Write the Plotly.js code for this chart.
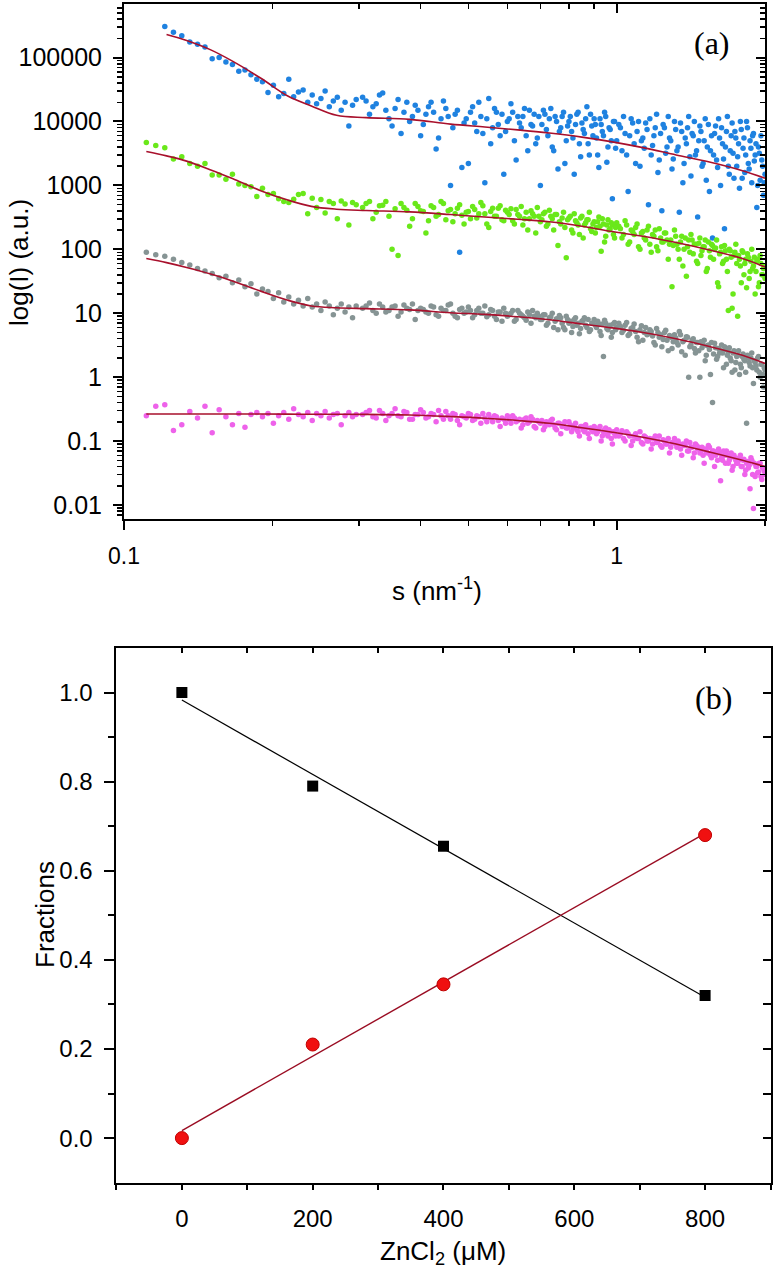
<!DOCTYPE html>
<html>
<head>
<meta charset="utf-8">
<script src="https://cdn.plot.ly/plotly-3.0.1.min.js"></script>
<style>
  html, body { margin: 0; padding: 0; background: #fff; }
  #plot { width: 775px; height: 1274px; }
</style>
</head>
<body>
<div id="plot"></div>
<script>
// ---- panel (a): SAXS curves, s in nm^-1, intensity in a.u. ----
const sVals = [
  0.111,0.116,0.121,0.126,0.131,0.136,0.141,0.146,0.151,0.156,
  0.161,0.166,0.171,0.176,0.181,0.186,0.191,0.196,0.201,0.206,
  0.211,0.216,0.221,0.226,0.231,0.236,0.241,0.246,0.251,0.256,
  0.261,0.266,0.271,0.276,0.281,0.286,0.291,0.296,
  0.31,0.32,0.33,0.34,0.35,0.36,0.37,0.38,0.39,0.40,
  0.41,0.42,0.43,0.44,0.45,0.46,0.47,0.48,0.49,0.50,
  0.51,0.52,0.53,0.54,0.55,0.56,0.57,0.58,0.59,0.60,
  0.61,0.62,0.63,0.64,0.65,0.66,0.67,0.68,0.69,0.70,
  0.71,0.72,0.73,0.74,0.75,0.76,0.77,0.78,0.79,0.80,
  0.81,0.82,0.83,0.84,0.85,0.86,0.87,0.88,0.89,0.90,
  0.91,0.92,0.93,0.94,0.95,0.96,0.97,0.98,0.99,1.00,
  1.01,1.025,1.04,1.055,1.07,1.085,1.1,1.115,1.13,1.145,
  1.16,1.175,1.19,1.205,1.22,1.235,1.25,1.265,1.28,1.295,
  1.31,1.325,1.34,1.355,1.37,1.385,1.4,1.415,1.43,1.445,
  1.46,1.475,1.49,1.505,1.52,1.535,1.55,1.565,1.58,1.595,
  1.61,1.625,1.64,1.655,1.67,1.685,1.7,1.715,1.73,1.745,
  1.76,1.775,1.79,1.805,1.82,1.835,1.85,1.865,1.88,1.895,
  1.91,1.925,1.94,1.955,1.97,1.985,2.0
];

const blueI = [
  null,null,3.05e5,2.5e5,2.2e5,1.75e5,1.62e5,1.47e5,9.6e4,1.0e5,
  8.5e4,7.8e4,6.1e4,6.4e4,5.4e4,4.6e4,4.2e4,2.85e4,3.7e4,2.45e4,
  2.75e4,4.6e4,2.45e4,2.9e4,3.1e4,2.0e4,2.6e4,1.9e4,2.3e4,3.0e4,
  1.7e4,2.1e4,2.4e4,1.5e4,2.0e4,8.5e3,1.8e4,2.2e4,
  2.1e4,1.7e4,2.6e4,1.5e4,8.5e3,2.2e4,1.4e4,1.0e4,1.8e4,6.0e3,
  1.3e4,2.0e4,3.7e3,1.1e4,1.6e4,1.0e3,1.3e4,90,9.5e3,2.2e3,
  1.7e4,7.0e3,1.2e4,1.1e3,2.3e4,8.0e3,1.4e4,6.0e3,1.5e3,1.0e4,
  1.9e4,5.0e3,1.2e4,8.0e3,1.6e4,3.5e3,9.0e3,1.3e4,5.5e3,1.0e3,
  1.5e4,7.5e3,1.1e4,4.0e3,1.2e4,1.8e3,8.0e3,1.4e4,5.0e3,1.0e4,
  7.0e3,1.5e3,1.3e4,4.5e3,9.5e3,6.5e3,1.7e4,3.0e3,8.5e3,1.1e4,
  5.5e3,1.9e3,9.0e3,6.0e3,1.2e4,4.0e3,7.5e3,620,1.0e4,5.0e3,
  9.0e3,3.5e3,6.5e3,800,1.1e4,4.5e3,7.0e3,2.0e3,5.5e3,9.5e3,
  500,3.0e3,6.0e3,1.3e4,2.5e3,400,8.0e3,4.0e3,5.5e3,1.8e3,
  1.0e4,3.5e3,380,7.0e3,2.2e3,4.5e3,1.2e4,1.4e3,6.0e3,3.0e3,
  320,8.5e3,2.0e3,5.0e3,1.2e3,9.0e3,3.5e3,150,6.5e3,2.5e3,
  1.1e4,1.0e3,4.5e3,210,7.0e3,2.0e3,3.5e3,9.5e3,1.3e3,5.5e3,
  2.8e3,900,7.5e3,3.8e3,1.6e3,1.0e4,2.2e3,5.0e3,1.1e3,6.5e3,
  3.0e3,450,4.0e3,1.2e3,2.5e3,700,1.5e3
];

const greenI = [
  4700,4200,3900,2600,2800,2200,2000,2200,1450,1450,
  1250,1500,1050,1000,950,670,900,720,750,620,
  560,540,610,720,750,360,630,450,600,370,
  560,520,300,570,510,240,540,500,
  520,300,480,560,100,80,450,230,520,400,
  180,480,330,560,290,420,360,500,250,390,
  470,310,540,360,220,440,330,480,280,380,
  430,250,350,470,300,200,400,330,450,270,
  360,230,410,300,350,115,250,380,74,310,
  200,360,260,170,330,240,290,380,190,270,
  220,320,93,250,160,290,210,240,150,260,
  230,150,280,120,200,170,250,100,190,140,
  230,90,160,110,210,130,180,140,120,26,
  200,120,70,160,100,38,140,170,85,120,
  60,150,95,110,45,130,75,115,100,140,
  26,90,60,115,70,11,95,12,80,120,
  9,70,30,90,60,25,75,45,100,55,
  20,65,26,80,40,50,35
];

const grayI = [
  90,82,78,70,62,57,50,46,42,36,
  38,30,33,26,29,20,24,22,17,21,
  15,18,14,16,13,17,12.5,14,11,15,
  13,9.5,12,14,10.5,12.5,8.5,13,
  13,11,14,10.5,12.5,9,13.5,11.5,8,12,
  10.5,13,9.5,12,11,14,9,11.5,10,12.5,
  8.5,11,10,13,9.5,11,8,10.5,12,9,
  10,7.5,11,9.5,8.5,10.5,7,9,10,8,
  9.5,6.5,8.5,10,7.5,5.5,8.5,6,9,7,
  5,8,6.5,4.8,7.5,8.5,6,5.2,7,8,
  6,6.8,4.5,2.1,7,5.5,6.5,5,7.2,6,
  7,5,6.5,4.5,5.8,6.8,4.2,5.5,3.8,6,
  4.8,5.2,3.5,5.8,4.2,3,5,3.8,4.5,2.8,
  4.6,3.5,5.2,2.5,3.8,4.3,1.0,3.2,4,2.4,
  3.5,1.0,2.9,3.8,2.2,3.2,1.1,0.4,3.4,1.9,
  2.8,2.6,2.4,3.0,1.6,2.5,2.0,1.2,2.6,1.7,
  2.2,1.1,1.4,2.3,1.8,0.19,2.0,1.5,2.4,0.8,
  1.7,1.3,2.1,1.0,1.6,0.7,1.3
];

const pinkI = [
  0.25,0.35,0.37,0.146,0.18,0.29,0.23,0.35,0.135,0.31,
  0.24,0.18,0.27,0.165,0.26,0.28,0.24,0.27,0.19,0.25,
  0.28,0.22,0.32,0.26,0.24,0.28,0.21,0.27,0.25,0.29,
  0.23,0.26,0.27,0.18,0.25,0.28,0.24,0.26,
  0.28,0.24,0.30,0.21,0.27,0.25,0.29,0.22,0.26,0.31,
  0.23,0.27,0.20,0.25,0.29,0.22,0.26,0.18,0.24,0.27,
  0.21,0.25,0.19,0.23,0.26,0.20,0.24,0.17,0.22,0.25,
  0.19,0.23,0.21,0.16,0.22,0.19,0.24,0.17,0.21,0.19,
  0.15,0.20,0.18,0.22,0.16,0.19,0.13,0.18,0.16,0.20,
  0.14,0.17,0.15,0.12,0.17,0.14,0.16,0.11,0.15,0.17,
  0.13,0.15,0.10,0.14,0.16,0.12,0.14,0.09,0.13,0.15,
  0.12,0.145,0.10,0.13,0.085,0.12,0.11,0.14,0.09,0.115,
  0.10,0.075,0.11,0.095,0.12,0.08,0.10,0.09,0.065,0.095,
  0.11,0.08,0.09,0.06,0.085,0.10,0.07,0.08,0.055,0.09,
  0.075,0.065,0.08,0.045,0.07,0.085,0.06,0.07,0.04,0.065,
  0.075,0.024,0.05,0.06,0.07,0.045,0.055,0.035,0.06,0.05,
  0.045,0.055,0.04,0.05,0.03,0.045,0.038,0.018,0.05,0.0088,
  0.028,0.04,0.033,0.045,0.025,0.038,0.03
];

// second, interleaved set of readings for s > 0.3 where the data are dense
const sVals2 = [
  0.305,0.315,0.325,0.335,0.345,0.355,0.365,0.375,0.385,0.395,
  0.405,0.415,0.425,0.435,0.445,0.455,0.465,0.475,0.485,0.495,
  0.505,0.515,0.525,0.535,0.545,0.555,0.565,0.575,0.585,0.595,
  0.605,0.615,0.625,0.635,0.645,0.655,0.665,0.675,0.685,0.695,
  0.705,0.715,0.725,0.735,0.745,0.755,0.765,0.775,0.785,0.795,
  0.805,0.815,0.825,0.835,0.845,0.855,0.865,0.875,0.885,0.895,
  0.905,0.915,0.925,0.935,0.945,0.955,0.965,0.975,0.985,0.995,
  1.0175,1.0325,1.0475,1.0625,1.0775,1.0925,1.1075,1.1225,1.1375,1.1525,
  1.1675,1.1825,1.1975,1.2125,1.2275,1.2425,1.2575,1.2725,1.2875,1.3025,
  1.3175,1.3325,1.3475,1.3625,1.3775,1.3925,1.4075,1.4225,1.4375,1.4525,
  1.4675,1.4825,1.4975,1.5125,1.5275,1.5425,1.5575,1.5725,1.5875,1.6025,
  1.6175,1.6325,1.6475,1.6625,1.6775,1.6925,1.7075,1.7225,1.7375,1.7525,
  1.7675,1.7825,1.7975,1.8125,1.8275,1.8425,1.8575,1.8725,1.8875,1.9025,
  1.9175,1.9325,1.9475,1.9625,1.9775,1.9925
];

const blueI2 = [
  2.4e4,1.3e4,1.9e4,2.8e4,1.1e4,1.6e4,6.5e3,2.0e4,1.2e4,1.5e4,
  9.0e3,1.7e4,1.4e4,5.5e3,2.1e4,1.2e4,8.0e3,1.5e4,1.9e3,1.1e4,
  1.4e4,9.5e3,2.0e4,6.5e3,1.1e4,4.5e3,1.6e4,9.0e3,1.3e4,7.0e3,
  1.1e4,1.4e4,2.5e3,9.5e3,1.2e4,6.0e3,1.5e4,8.5e3,4.5e3,1.2e4,
  9.0e3,1.3e4,6.0e3,1.6e4,3.5e3,1.0e4,7.0e3,1.2e4,2.2e3,8.5e3,
  1.2e4,5.5e3,9.0e3,1.4e4,2.8e3,7.5e3,1.1e4,4.5e3,1.3e4,6.0e3,
  9.0e3,3.0e3,1.1e4,7.0e3,1.4e4,2.3e3,8.0e3,5.0e3,1.0e4,3.8e3,
  8.0e3,1.2e4,3.0e3,6.0e3,9.5e3,2.2e3,1.0e4,5.0e3,3.8e3,7.5e3,
  1.1e4,4.2e3,8.0e3,1.6e3,6.5e3,9.0e3,3.2e3,1.2e4,5.0e3,2.6e3,
  7.5e3,4.0e3,9.5e3,1.1e3,5.5e3,8.0e3,2.8e3,6.5e3,1.0e4,3.5e3,
  5.0e3,7.0e3,2.2e3,1.1e4,4.0e3,800,6.0e3,3.0e3,8.5e3,1.9e3,
  5.5e3,8.0e3,2.6e3,4.0e3,1.2e4,1.5e3,6.0e3,3.2e3,7.0e3,2.0e3,
  4.5e3,1.0e4,1.3e3,5.5e3,3.0e3,8.0e3,1.8e3,3.8e3,6.0e3,2.4e3,
  4.5e3,1.0e3,3.2e3,6.0e3,2.0e3,1.1e3
];

const greenI2 = [
  450,560,380,490,330,430,520,410,300,470,
  390,280,450,350,520,400,270,440,340,380,
  300,420,360,480,250,390,330,440,290,410,
  350,280,420,330,240,380,300,360,180,330,
  290,380,250,330,200,350,270,310,220,290,
  330,180,280,240,310,150,260,290,210,250,
  180,270,230,300,130,240,200,260,170,220,
  210,170,240,130,190,220,110,180,150,200,
  120,170,200,95,150,130,180,70,140,115,
  160,100,130,55,150,110,90,140,120,65,
  125,80,110,140,50,95,120,70,105,30,
  85,110,65,95,45,100,75,20,90,60,
  80,55,95,40,70,85,35,65,50,75,
  45,70,30,60,40,55
];

const grayI2 = [
  12,14.5,10,12.5,11,13,10.5,12,14,11,
  11.5,10,12.5,9,11,13.5,10,8.5,12,10.5,
  11,9.5,12,10,8.8,11.5,9,10.5,7.5,10,
  9.5,11,8,10,9,7.8,9.5,11,8.5,9,
  8,9.5,7,8.8,6,8.2,9.2,7,5.5,8,
  7.5,6.2,8.5,7,5.8,7.8,6.5,8,5.5,7,
  6.5,7.5,5.2,6.8,7.8,5.8,6.2,4.2,6.8,5.5,
  6.2,5.4,7.2,4.8,6,5.2,3.6,6.4,5,4.6,
  5.5,4.4,3.2,5,4.6,3.9,5.4,2.6,4.2,3.6,
  4.1,3.2,4.6,3.6,2.2,4.2,3,3.8,2.8,3.5,
  2.6,3.6,3.2,1.8,3.1,2.7,3.5,2.3,2.9,2.1,
  2.4,3.2,1.4,2.7,2.2,2.9,1.8,2.4,1.3,2.1,
  2.6,1.6,2.1,1.9,1.2,2.2,1.7,2.0,1.4,1.8,
  1.5,2.0,1.2,1.6,1.1,1.4
];

const pinkI2 = [
  0.26,0.30,0.23,0.27,0.25,0.32,0.24,0.28,0.22,0.26,
  0.28,0.24,0.26,0.30,0.22,0.25,0.27,0.21,0.25,0.23,
  0.26,0.22,0.24,0.27,0.20,0.23,0.25,0.21,0.23,0.19,
  0.22,0.25,0.20,0.22,0.18,0.23,0.20,0.22,0.16,0.20,
  0.21,0.17,0.19,0.21,0.18,0.15,0.19,0.17,0.20,0.16,
  0.18,0.16,0.19,0.14,0.17,0.15,0.18,0.13,0.16,0.14,
  0.16,0.14,0.17,0.12,0.15,0.13,0.15,0.11,0.14,0.12,
  0.13,0.11,0.14,0.12,0.10,0.13,0.11,0.095,0.12,0.10,
  0.11,0.09,0.12,0.10,0.085,0.105,0.09,0.11,0.08,0.095,
  0.09,0.10,0.075,0.09,0.085,0.07,0.095,0.08,0.065,0.085,
  0.08,0.07,0.06,0.075,0.065,0.08,0.055,0.07,0.06,0.05,
  0.065,0.055,0.07,0.045,0.06,0.05,0.065,0.04,0.055,0.045,
  0.05,0.06,0.04,0.052,0.035,0.048,0.042,0.055,0.03,0.045,
  0.04,0.032,0.045,0.028,0.038,0.034
];

// model fits
const fitS = [0.111,0.122,0.134,0.15,0.166,0.19,0.215,0.24,0.27,0.31,0.38,
              0.46,0.54,0.63,0.73,0.85,0.98,1.13,1.32,1.55,1.8,2.0];
const blueFit  = [null,2.3e5,1.85e5,1.32e5,8.8e4,4.7e4,2.5e4,1.75e4,1.25e4,1.15e4,1.08e4,
                  9.1e3,8.2e3,7.4e3,6.6e3,5.7e3,4.8e3,3.9e3,3.0e3,2.3e3,1.7e3,1.3e3];
const greenFit = [3400,2900,2400,1750,1280,820,590,470,425,405,385,
                  350,320,295,270,230,190,160,128,97,72,53];
const grayFit  = [72,62,52,41,32,22,16,13,12.2,11.8,11.3,
                  10.2,9.6,8.8,7.9,6.8,5.9,5.0,4.0,3.0,2.2,1.64];
const pinkFit  = [0.265,0.265,0.265,0.265,0.265,0.265,0.264,0.263,0.263,0.262,0.256,
                  0.242,0.228,0.21,0.19,0.162,0.138,0.115,0.09,0.067,0.05,0.04];

// ---- panel (b): fractions vs ZnCl2 ----
const znConc = [0, 200, 400, 800];
const fracA = [1.0, 0.79, 0.655, 0.32];
const fracB = [0.0, 0.21, 0.345, 0.68];
const fitConc = [0, 800];
const fitFracA = [0.983, 0.316];
const fitFracB = [0.017, 0.684];

const yTopTicks = [0.01, 0.1, 1, 10, 100, 1000, 10000, 100000];
const yTopLabels = ['0.01', '0.1', '1', '10', '100', '1000', '10000', '100000'];
const xTopTicks = [0.1, 1];
const xTopLabels = ['0.1', '1'];
const xBotTicks = [0, 200, 400, 600, 800];
const xBotLabels = ['0', '200', '400', '600', '800'];
const yBotTicks = [0, 0.2, 0.4, 0.6, 0.8, 1.0];
const yBotLabels = ['0.0', '0.2', '0.4', '0.6', '0.8', '1.0'];

const COLORS = {
  blue: '#1f82e0', green: '#6ae81a', gray: '#869494', pink: '#ee62ea',
  fit: '#a8102c', red: '#f01010', redLine: '#9a0c22'
};
const FONT = 'Liberation Sans, Arial, sans-serif';

// minor tick positions
const xMinorTop = [0.2, 0.3, 0.4, 0.5, 0.6, 0.7, 0.8, 0.9, 2];
const yMinorTop = [];
for (let e = -3; e <= 5; e++) {
  for (let k = 2; k <= 9; k++) {
    const v = k * Math.pow(10, e);
    if (v > 0.006 && v < 690000) yMinorTop.push(v);
  }
}

function pts(y, y2, color) {
  return {
    x: sVals.concat(sVals2), y: y.concat(y2), mode: 'markers', type: 'scatter',
    marker: { color: color, size: 5.5 },
    xaxis: 'x', yaxis: 'y'
  };
}
function fitLine(y) {
  return {
    x: fitS, y: y, mode: 'lines', type: 'scatter',
    line: { color: COLORS.fit, width: 1.6, shape: 'spline' },
    xaxis: 'x', yaxis: 'y'
  };
}

const traces = [
  pts(blueI, blueI2, COLORS.blue), pts(greenI, greenI2, COLORS.green),
  pts(grayI, grayI2, COLORS.gray), pts(pinkI, pinkI2, COLORS.pink),
  fitLine(blueFit), fitLine(greenFit), fitLine(grayFit), fitLine(pinkFit),
  {
    x: fitConc, y: fitFracA, mode: 'lines', type: 'scatter',
    line: { color: '#000', width: 1.2 }, xaxis: 'x2', yaxis: 'y2'
  },
  {
    x: fitConc, y: fitFracB, mode: 'lines', type: 'scatter',
    line: { color: COLORS.redLine, width: 1.4 }, xaxis: 'x2', yaxis: 'y2'
  },
  {
    x: znConc, y: fracA, mode: 'markers', type: 'scatter',
    marker: { symbol: 'square', size: 11, color: '#000' }, xaxis: 'x2', yaxis: 'y2'
  },
  {
    x: znConc, y: fracB, mode: 'markers', type: 'scatter',
    marker: { symbol: 'circle', size: 13, color: COLORS.red, line: { color: '#c00000', width: 1 } },
    xaxis: 'x2', yaxis: 'y2'
  },
  // empty traces that hold the mirrored (inside) tick axes
  { x: [], y: [], xaxis: 'x3', yaxis: 'y', type: 'scatter', hoverinfo: 'skip' },
  { x: [], y: [], xaxis: 'x', yaxis: 'y3', type: 'scatter', hoverinfo: 'skip' },
  { x: [], y: [], xaxis: 'x4', yaxis: 'y2', type: 'scatter', hoverinfo: 'skip' },
  { x: [], y: [], xaxis: 'x2', yaxis: 'y4', type: 'scatter', hoverinfo: 'skip' }
];

function axis(size, extra) {
  return Object.assign({
    showgrid: false, zeroline: false, showline: true, linecolor: '#000', linewidth: 2,
    ticks: 'outside', tickcolor: '#000', tickwidth: 2, mirror: true,
    tickfont: { family: FONT, size: size, color: '#000' }, fixedrange: true
  }, extra);
}
function mirrorAxis(extra) {
  return Object.assign({
    showgrid: false, zeroline: false, showline: false, showticklabels: false,
    ticks: 'inside', tickcolor: '#000', tickwidth: 2, fixedrange: true
  }, extra);
}

const xTopRange = [-1, Math.log10(2)];
const yTopRange = [-2.219, 5.839];

const layout = {
  width: 775, height: 1274,
  margin: { l: 0, r: 0, t: 0, b: 0 },
  paper_bgcolor: '#fff', plot_bgcolor: '#fff',
  showlegend: false,
  font: { family: FONT, size: 22, color: '#000' },
  xaxis: axis(23, {
    type: 'log', range: xTopRange, domain: [0.16, 0.9871], anchor: 'y',
    tickmode: 'array', tickvals: xTopTicks, ticktext: xTopLabels, ticklen: 9,
    ticklabelstandoff: 6,
    minor: { tickmode: 'array', tickvals: xMinorTop, ticks: 'outside', ticklen: 5, tickwidth: 1.5, tickcolor: '#000' }
  }),
  yaxis: axis(25, {
    type: 'log', range: yTopRange, domain: [0.5926, 0.9969], anchor: 'x',
    tickmode: 'array', tickvals: yTopTicks, ticktext: yTopLabels, ticklen: 9,
    ticklabelstandoff: 6,
    minor: { tickmode: 'array', tickvals: yMinorTop, ticks: 'outside', ticklen: 5, tickwidth: 1.5, tickcolor: '#000' }
  }),
  xaxis3: mirrorAxis({
    type: 'log', range: xTopRange, overlaying: 'x', side: 'top', anchor: 'y',
    tickmode: 'array', tickvals: xTopTicks, ticklen: 9,
    minor: { tickmode: 'array', tickvals: xMinorTop, ticks: 'inside', ticklen: 5, tickwidth: 1.5, tickcolor: '#000' }
  }),
  yaxis3: mirrorAxis({
    type: 'log', range: yTopRange, overlaying: 'y', side: 'right', anchor: 'x',
    tickmode: 'array', tickvals: yTopTicks, ticklen: 9,
    minor: { tickmode: 'array', tickvals: yMinorTop, ticks: 'inside', ticklen: 5, tickwidth: 1.5, tickcolor: '#000' }
  }),
  xaxis2: axis(24, {
    range: [-100, 900], domain: [0.1503, 0.9942], anchor: 'y2',
    tickmode: 'array', tickvals: xBotTicks, ticktext: xBotLabels, ticklen: 5,
    ticklabelstandoff: 9,
    minor: { tickmode: 'array', tickvals: [-100, 100, 300, 500, 700, 900], ticks: 'outside', ticklen: 5, tickwidth: 2, tickcolor: '#000' }
  }),
  yaxis2: axis(24, {
    range: [-0.1, 1.1], domain: [0.0717, 0.4914], anchor: 'x2',
    tickmode: 'array', tickvals: yBotTicks, ticktext: yBotLabels, ticklen: 10,
    ticklabelstandoff: 7,
    minor: { tickmode: 'array', tickvals: [0.1, 0.3, 0.5, 0.7, 0.9], ticks: 'outside', ticklen: 6, tickwidth: 2, tickcolor: '#000' }
  }),
  xaxis4: mirrorAxis({
    range: [-100, 900], overlaying: 'x2', side: 'top', anchor: 'y2',
    tickmode: 'array', tickvals: [-100, 0, 100, 200, 300, 400, 500, 600, 700, 800, 900], ticklen: 5
  }),
  yaxis4: mirrorAxis({
    range: [-0.1, 1.1], overlaying: 'y2', side: 'right', anchor: 'x2',
    tickmode: 'array', tickvals: [0, 0.1, 0.2, 0.3, 0.4, 0.5, 0.6, 0.7, 0.8, 0.9, 1.0], ticklen: 8
  }),
  annotations: [
    { text: '(a)', xref: 'paper', yref: 'paper', x: 0.9183, y: 0.966, showarrow: false,
      xanchor: 'center', yanchor: 'middle', font: { family: 'Liberation Serif, Times New Roman, serif', size: 32, color: '#000' } },
    { text: '(b)', xref: 'paper', yref: 'paper', x: 0.92, y: 0.4521, showarrow: false,
      xanchor: 'center', yanchor: 'middle', font: { family: 'Liberation Serif, Times New Roman, serif', size: 32, color: '#000' } },
    { text: 'log(I) (a.u.)', xref: 'paper', yref: 'paper', x: 0.0245, y: 0.7943, textangle: -90,
      showarrow: false, xanchor: 'center', yanchor: 'middle', font: { family: FONT, size: 26, color: '#000' } },
    { text: 's (nm<sup>-1</sup>)', xref: 'paper', yref: 'paper', x: 0.564, y: 0.5369, showarrow: false,
      xanchor: 'center', yanchor: 'middle', font: { family: FONT, size: 26, color: '#000' } },
    { text: 'Fractions', xref: 'paper', yref: 'paper', x: 0.0580, y: 0.2826, textangle: -90,
      showarrow: false, xanchor: 'center', yanchor: 'middle', font: { family: FONT, size: 26, color: '#000' } },
    { text: 'ZnCl<sub>2</sub> (μM)', xref: 'paper', yref: 'paper', x: 0.5716, y: 0.0165, showarrow: false,
      xanchor: 'center', yanchor: 'middle', font: { family: FONT, size: 26, color: '#000' } }
  ]
};

Plotly.newPlot('plot', traces, layout, { displayModeBar: false, staticPlot: true });
</script>
</body>
</html>
